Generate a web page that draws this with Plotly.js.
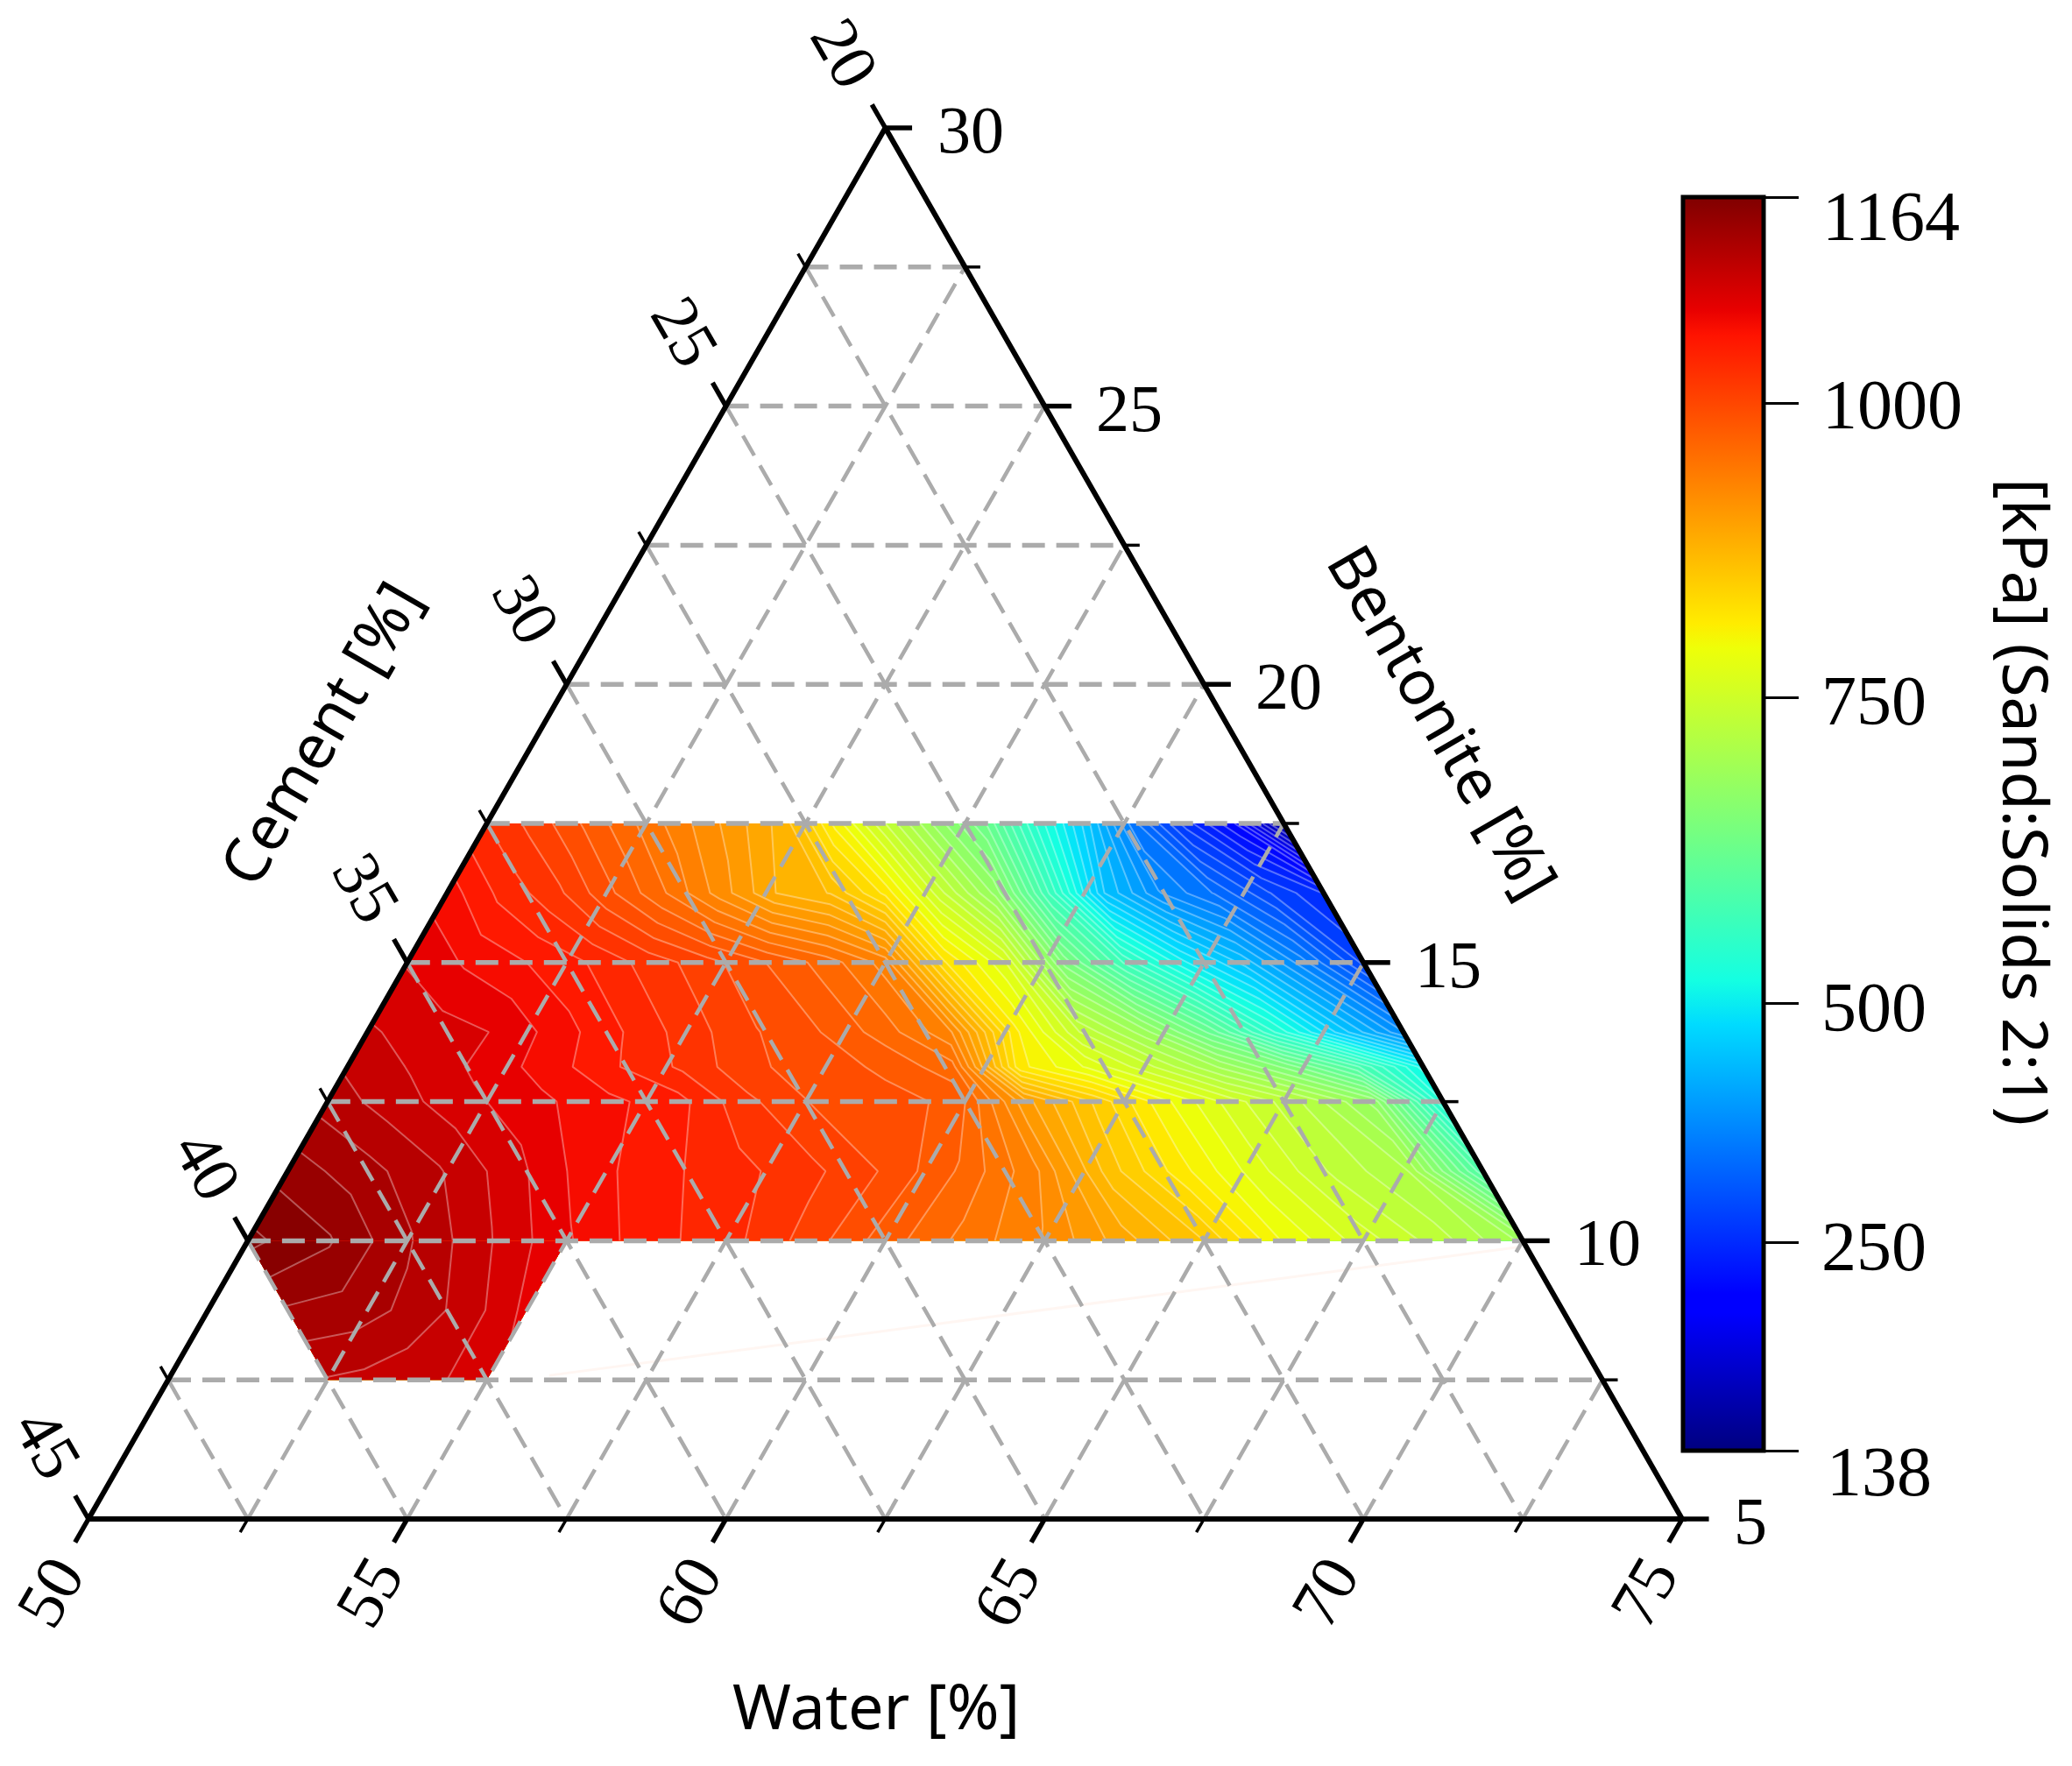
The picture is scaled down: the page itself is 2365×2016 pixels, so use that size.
<!DOCTYPE html>
<html>
<head>
<meta charset="utf-8">
<script src="https://cdn.plot.ly/plotly-3.0.1.min.js"></script>
<style>html,body{margin:0;padding:0;background:#fff}</style>
</head>
<body>
<div id="chart" style="width:2365px;height:2016px"></div>
<script>
// ---- data: strength [kPa] along rows of constant Bentonite ----
// each row is sampled at 17 equal steps between its Water=50 edge and its Cement=20 edge
const upperBentonite = [10, 11.25, 12.5, 13.125, 13.75, 15, 16.25, 17.5];
const kPaB1000 = [1164,1148,1120,1092,1064,1040,1026,1001,971,945,921,886,852,794,761,731,695];
const kPaB1125 = [1140,1124,1106,1082,1055,1038,1025,1010,990,962,926,859,814,773,737,712,590];
const kPaB1250 = [1112,1096,1080,1066,1052,1040,1010,990,983,975,900,850,800,760,725,680,530];
const kPaB1312 = [1102,1088,1072,1055,1035,1017,995,985,975,955,815,780,740,695,650,590,510];
const kPaB1375 = [1092,1083,1075,1054,1033,1012,993,978,957,925,815,740,690,625,545,470,405];
const kPaB1500 = [1075,1060,1048,1034,1015,998,978,958,930,825,770,650,570,505,455,395,330];
const kPaB1625 = [1055,1030,1010,980,950,915,880,865,820,745,680,570,460,405,375,335,305];
const kPaB1750 = [1020,1000,975,950,925,900,872,805,740,680,630,545,470,380,315,265,165];

// the small patch below Bentonite = 10: Cement = 40 edge to Water = 55 edge, 5 steps per row
const lowerBentonite = [7.5, 8.75, 10];
const kPaL0750 = [1103,1100,1095,1090,1082];
const kPaL0875 = [1130,1126,1115,1098,1072];
const kPaL1000 = [1164,1148,1120,1092,1064];

// very faint stray line in the empty area of the reference
const strayWater = [55.94, 70];
const strayBentonite = [7.58, 9.89];

const zMin = 138, zMax = 1164, levelStep = 14;
const cbarPositions = [138, 308, 504, 754, 995, 1164];   // where the printed labels sit on the bar
const cbarLabels = ['138', '250', '500', '750', '1000', '1164'];

const axisStart = {water: 50, cement: 20, bentonite: 5};
const axisSpan = 25;
const gridValues = [2.5, 5, 7.5, 10, 12.5, 15, 17.5, 20, 22.5];
const tickOffsets = [0, 2.5, 5, 7.5, 10, 12.5, 15, 17.5, 20, 22.5, 25];

const jet = [[0,'rgb(0,0,128)'],[0.11,'rgb(0,0,255)'],[0.125,'rgb(0,0,255)'],[0.34,'rgb(0,219,255)'],
 [0.375,'rgb(20,255,226)'],[0.64,'rgb(238,255,8)'],[0.66,'rgb(255,236,0)'],[0.89,'rgb(255,19,0)'],
 [0.91,'rgb(232,0,0)'],[1,'rgb(128,0,0)']];

// ---- ternary -> cartesian ----
const X = (w, b) => w + (b - axisStart.bentonite) / 2;
const Y = b => b;

const W = 2365, H = 2016;
const pxLeft = 101, pxRight = 1920, pxBottom = 1734, pxTop = 146;
const kx = (pxRight - pxLeft) / axisSpan, ky = (pxBottom - pxTop) / axisSpan;
const xRange = [50 - pxLeft / kx, 50 + (W - pxLeft) / kx];
const yRange = [5 - (H - pxBottom) / ky, 5 + pxBottom / ky];

const upperZ = [kPaB1000, kPaB1125, kPaB1250, kPaB1312, kPaB1375, kPaB1500, kPaB1625, kPaB1750];
const lowerZ = [kPaL0750, kPaL0875, kPaL1000];

const contourLine = {color: 'rgba(255,255,255,0.34)', width: 2, smoothing: 0};
const labelFamily = '"Liberation Serif","DejaVu Serif",serif';
const titleFamily = '"Noto Sans","Open Sans",sans-serif';

function carpetPair(id, rows, zs, leftW, rightW) {
  const n = zs[0].length;
  const idx = zs[0].map((_, i) => i);
  const rowIdx = rows.map((_, i) => i);
  const noAxis = {showgrid: false, showticklabels: 'none', startline: false, endline: false, minorgridcount: 0, smoothing: 0, showline: false};
  const carpet = {
    type: 'carpet', carpet: id, a: idx, b: rowIdx,
    x: rows.map(b => idx.map(i => X(leftW(b) + i / (n - 1) * (rightW(b) - leftW(b)), b))),
    y: rows.map(b => idx.map(() => Y(b))),
    aaxis: noAxis, baxis: noAxis, hoverinfo: 'skip', showlegend: false
  };
  const contour = {
    type: 'contourcarpet', carpet: id, a: idx, b: rowIdx, z: zs,
    autocontour: false, contours: {start: zMin, end: zMax, size: levelStep, coloring: 'fill', showlines: true},
    line: contourLine, colorscale: jet, zmin: zMin, zmax: zMax, showscale: false, hoverinfo: 'skip'
  };
  return [carpet, contour];
}

// colour bar carrier, its only cell lies outside the visible range
const barTrace = {
  type: 'heatmap', x: [xRange[1] + 1, xRange[1] + 2], y: [yRange[1] + 1], z: [[zMin, zMax]],
  colorscale: jet, zmin: zMin, zmax: zMax, hoverinfo: 'skip',
  colorbar: {
    x: 1921 / W, xanchor: 'left', xpad: 0,
    y: (H - 1656) / H, yanchor: 'bottom', ypad: 0,
    lenmode: 'pixels', len: 1656 - 225, thicknessmode: 'pixels', thickness: 92,
    outlinecolor: '#000', outlinewidth: 5, borderwidth: 0,
    tickmode: 'array', tickvals: cbarPositions, ticktext: cbarLabels,
    ticks: 'outside', ticklen: 38, tickwidth: 3, tickcolor: '#000', showticklabels: false
  }
};

// grid lines in ternary coordinates
function lineTrace(points, color, width, dash) {
  const x = [], y = [];
  points.forEach(seg => {
    seg.forEach(p => { x.push(X(p[0], p[1])); y.push(Y(p[1])); });
    x.push(null); y.push(null);
  });
  return {type: 'scatter', mode: 'lines', x, y, hoverinfo: 'skip', showlegend: false, cliponaxis: false,
          line: {color, width, dash: dash || 'solid'}};
}
const wMin = axisStart.water, bMin = axisStart.bentonite, cMin = axisStart.cement;
const bentSegs = gridValues.map(d => { const b = bMin + d; return [[wMin, b], [100 - b - cMin, b]]; });
const waterSegs = gridValues.map(d => { const w = wMin + d; return [[w, bMin], [w, 100 - w - cMin]]; });
const cementSegs = gridValues.map(d => { const c = cMin + d; return [[wMin, 100 - wMin - c], [100 - bMin - c, bMin]]; });

const grid = '#ABABAB', dash = '26px,13px';
const lineTraces = [
  lineTrace([strayWater.map((w, i) => [w, strayBentonite[i]])], 'rgba(255,180,150,0.12)', 3),
  lineTrace(waterSegs, grid, 4.5, dash),
  lineTrace(cementSegs, grid, 4.5, dash),
  lineTrace(bentSegs, grid, 5.5, dash)
];

// ticks
const major = d => d % 5 === 0;
const len = d => major(d) ? 0.42 : 0.24;
const tickSegs = d => [
  [[wMin + d, bMin], [wMin + d, bMin - len(d)]],
  [[wMin, 30 - d], [wMin - len(d), 30 - d + len(d)]],
  [[100 - cMin - bMin - d, bMin + d], [100 - cMin - bMin - d + len(d), bMin + d]]
];
const majorT = [], minorT = [];
tickOffsets.forEach(d => tickSegs(d).forEach(s => (major(d) ? majorT : minorT).push(s)));
lineTraces.push(lineTrace(minorT, '#000', 3.5));
lineTraces.push(lineTrace(majorT, '#000', 5.5));
lineTraces.push(lineTrace([[[wMin, bMin], [wMin + axisSpan, bMin], [wMin, bMin + axisSpan], [wMin, bMin]]], '#000', 6));

// annotations
const ann = [];
function tickLabel(x, y, text, angle, xs, ys, anchor) {
  ann.push({xref: 'x', yref: 'y', x, y, text, showarrow: false, textangle: angle, xshift: xs, yshift: ys,
    xanchor: anchor || 'center', yanchor: 'middle', font: {family: labelFamily, size: 76, color: '#000'}});
}
tickOffsets.filter(major).forEach(d => {
  tickLabel(X(wMin + d, bMin), Y(bMin), String(wMin + d), -60, -44, -83);
  const b = 30 - d;
  tickLabel(X(wMin, b), Y(b), String(cMin + d), 60, -46, 86);
  const bb = bMin + d;
  tickLabel(X(100 - cMin - bb, bb), Y(bb), String(bb), 0, 57, -2, 'left');
});
function pxNote(px, py, text, angle, size, family, anchor) {
  ann.push({xref: 'paper', yref: 'paper', x: px / W, y: 1 - py / H, text, showarrow: false, textangle: angle,
    xanchor: anchor || 'center', yanchor: 'middle', font: {family, size, color: '#000'}});
}
pxNote(1000, 1946, 'Water [%]', 0, 72, titleFamily);
pxNote(364, 837, 'Cement [%]', -60, 71, titleFamily);
pxNote(1649, 822, 'Bentonite [%]', 60, 71, titleFamily);
pxNote(2314, 915, '[kPa] (Sand:Solids 2:1)', 90, 72, titleFamily);
const cbarLabelX = [2083, 2077, 2077, 2077, 2078, 2078];
const cbarLabelY = [1680, 1423, 1150, 800, 462, 247];
cbarLabels.forEach((t, i) => pxNote(cbarLabelX[i], cbarLabelY[i], t, 0, 80, labelFamily, 'left'));

const traces = [
  ...carpetPair('upper', upperBentonite, upperZ, b => 50, b => 80 - b),
  ...carpetPair('lower', lowerBentonite, lowerZ, b => 60 - b, b => 55),
  barTrace,
  ...lineTraces
];
const hidden = {visible: false, showgrid: false, zeroline: false, fixedrange: true};
const layout = {
  width: W, height: H,
  margin: {l: 0, r: 0, t: 0, b: 0, pad: 0, autoexpand: false},
  paper_bgcolor: '#fff', plot_bgcolor: '#fff', showlegend: false,
  xaxis: Object.assign({range: xRange, autorange: false}, hidden),
  yaxis: Object.assign({range: yRange, autorange: false}, hidden),
  annotations: ann
};
Plotly.newPlot('chart', traces, layout, {staticPlot: true, displayModeBar: false});
</script>
</body>
</html>
